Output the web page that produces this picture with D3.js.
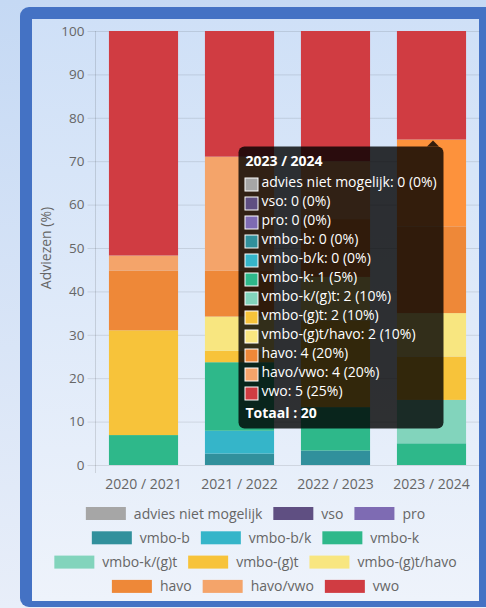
<!DOCTYPE html>
<html>
<head>
<meta charset="utf-8">
<script src="https://cdn.jsdelivr.net/npm/d3@7"></script>
<style>
  body { margin: 0; padding: 0; }
  svg { display: block; font-family: "Open Sans", sans-serif; }
</style>
</head>
<body>
<div id="graph"></div>
<script>
// School years (x categories)
const years = ["2020 / 2021", "2021 / 2022", "2022 / 2023", "2023 / 2024"];

// Advice types, stacked bottom-up
const adviceTypes = [
    "advies niet mogelijk", "vso", "pro",
    "vmbo-b", "vmbo-b/k", "vmbo-k",
    "vmbo-k/(g)t", "vmbo-(g)t", "vmbo-(g)t/havo",
    "havo", "havo/vwo", "vwo"
];

const adviceColors = [
    "#a6a6a6", "#5f4f82", "#7e6bb3",
    "#31909c", "#35b5c9", "#2eb88a",
    "#82d4bc", "#f7c33a", "#f8e680",
    "#ee8838", "#f4a46a", "#d03c42"
];

// Number of advices per type, one value per year
const counts = {
    "advies niet mogelijk": [0, 0, 0, 0],
    "vso": [0, 0, 0, 0],
    "pro": [0, 0, 0, 0],
    "vmbo-b": [0, 1, 1, 0],
    "vmbo-b/k": [0, 2, 0, 0],
    "vmbo-k": [2, 6, 3, 1],
    "vmbo-k/(g)t": [0, 0, 0, 2],
    "vmbo-(g)t": [7, 1, 6, 2],
    "vmbo-(g)t/havo": [0, 3, 3, 2],
    "havo": [4, 4, 4, 4],
    "havo/vwo": [1, 10, 4, 4],
    "vwo": [15, 11, 9, 5]
};

const yTicks = [0, 10, 20, 30, 40, 50, 60, 70, 80, 90, 100];

// Hover state shown in the picture
const tooltipYear = "2023 / 2024";
const hoveredType = "havo/vwo";
const hoverColor = "#fd923c";

const W = 486, H = 608;
const margin = { left: 95.5, right: 479.5, top: 31, bottom: 465 };

const svg = d3.select("#graph").append("svg")
    .attr("width", W)
    .attr("height", H);

// Backgrounds
const defs = svg.append("defs");
const bgGrad = defs.append("linearGradient").attr("id", "bg").attr("x1", 0).attr("y1", 0).attr("x2", 0).attr("y2", 1);
bgGrad.append("stop").attr("offset", "0%").attr("stop-color", "#c5d9f4");
bgGrad.append("stop").attr("offset", "100%").attr("stop-color", "#e8eef9");
const panelGrad = defs.append("linearGradient").attr("id", "panel").attr("x1", 0).attr("y1", 0).attr("x2", 0).attr("y2", 1);
panelGrad.append("stop").attr("offset", "0%").attr("stop-color", "#cfe0f7");
panelGrad.append("stop").attr("offset", "100%").attr("stop-color", "#eef3fb");

svg.append("rect").attr("width", W).attr("height", H).attr("fill", "url(#bg)");
svg.append("rect").attr("x", 20).attr("y", 7).attr("width", 480).attr("height", 600)
    .attr("rx", 9).attr("fill", "#4472c4");
svg.append("rect").attr("x", 32).attr("y", 19).attr("width", 447).attr("height", 582)
    .attr("fill", "url(#panel)");

// Percentages per year
const totals = years.map((y, i) => d3.sum(adviceTypes, t => counts[t][i]));
const table = years.map((y, i) => {
    const row = { year: y };
    adviceTypes.forEach(t => { row[t] = counts[t][i] / totals[i] * 100; });
    return row;
});

const stack = d3.stack().keys(adviceTypes)(table);

const xScale = d3.scaleBand().domain(years)
    .range([margin.left, margin.right])
    .paddingInner(0.28).paddingOuter(0.14);

const yScale = d3.scaleLinear().domain([0, 100])
    .range([margin.bottom, margin.top]);

// Grid
svg.append("g").selectAll("line").data(yTicks).join("line")
    .attr("x1", margin.left - 8).attr("x2", margin.right)
    .attr("y1", d => yScale(d) + 0.5).attr("y2", d => yScale(d) + 0.5)
    .attr("stroke", "rgba(0,0,0,0.1)");
svg.append("line")
    .attr("x1", margin.left).attr("x2", margin.left)
    .attr("y1", margin.top).attr("y2", margin.bottom + 8)
    .attr("stroke", "rgba(0,0,0,0.12)");

// Bars
svg.append("g").selectAll("g").data(stack).join("g")
    .each(function (layer, li) {
        d3.select(this).selectAll("rect").data(layer).join("rect")
            .attr("x", d => xScale(d.data.year))
            .attr("width", xScale.bandwidth())
            .attr("y", d => yScale(d[1]))
            .attr("height", d => yScale(d[0]) - yScale(d[1]))
            .attr("fill", d => (layer.key === hoveredType && d.data.year === tooltipYear) ? hoverColor : adviceColors[li]);
    });

// Axes
const leftAxis = d3.axisLeft(yScale).tickValues(yTicks).tickSize(0).tickPadding(11);
const gLeft = svg.append("g").attr("transform", `translate(${margin.left}, 0)`).call(leftAxis);
gLeft.select(".domain").remove();
gLeft.selectAll("text").attr("fill", "#666").attr("font-size", 13.5).attr("font-family", "Open Sans");

const bottomAxis = d3.axisBottom(xScale).tickSize(0).tickPadding(14);
const gBottom = svg.append("g").attr("transform", `translate(0, ${margin.bottom})`).call(bottomAxis);
gBottom.select(".domain").remove();
gBottom.selectAll("text").attr("fill", "#666").attr("font-size", 14).attr("font-family", "Open Sans");

svg.append("text")
    .attr("transform", `translate(51, 248) rotate(-90)`)
    .attr("text-anchor", "middle")
    .attr("fill", "#666").attr("font-size", 14)
    .text("Adviezen (%)");

// Legend
const legend = svg.append("g");
const boxW = 40, boxH = 13, gap = 8, pad = 11, maxRow = 420, rowH = 24.3, legendTop = 507;
const items = adviceTypes.map((t, i) => {
    const tmp = legend.append("text").attr("font-size", 14).text(t);
    const w = tmp.node().getComputedTextLength();
    tmp.remove();
    return { name: t, color: adviceColors[i], w: boxW + gap + w };
});
const rows = [];
items.forEach(it => {
    const row = rows[rows.length - 1];
    if (row && row.width + pad + it.w <= maxRow) {
        row.items.push(it); row.width += pad + it.w;
    } else {
        rows.push({ items: [it], width: it.w });
    }
});
rows.forEach((row, r) => {
    let x = 255.5 - row.width / 2;
    const y = legendTop + r * rowH;
    row.items.forEach(it => {
        legend.append("rect").attr("x", x).attr("y", y).attr("width", boxW).attr("height", boxH)
            .attr("fill", it.color);
        legend.append("text").attr("x", x + boxW + gap).attr("y", y + 11.5)
            .attr("font-size", 14).attr("fill", "#666").text(it.name);
        x += it.w + pad;
    });
});

// Tooltip
const ti = years.indexOf(tooltipYear);
const tip = svg.append("g");
const tx = 238.5, ty = 146.5, tw = 205, th = 282;
const caretX = 433;
tip.append("path")
    .attr("d", `M${caretX - 6},${ty} L${caretX},${ty - 6} L${caretX + 6},${ty} Z`)
    .attr("fill", "rgba(0,0,0,0.8)");
tip.append("rect").attr("x", tx).attr("y", ty).attr("width", tw).attr("height", th)
    .attr("rx", 6).attr("fill", "rgba(0,0,0,0.8)");
tip.append("text").attr("x", tx + 7).attr("y", ty + 19.5)
    .attr("font-size", 14).attr("font-weight", "bold").attr("fill", "#fff")
    .text(tooltipYear);
adviceTypes.forEach((t, i) => {
    const ly = ty + 40.5 + i * 19;
    tip.append("rect").attr("x", tx + 6.5).attr("y", ly - 9).attr("width", 13).attr("height", 13)
        .attr("fill", adviceColors[i]).attr("stroke", "#fff").attr("stroke-width", 1);
    const n = counts[t][ti];
    tip.append("text").attr("x", tx + 23).attr("y", ly)
        .attr("font-size", 14).attr("fill", "#fff")
        .text(`${t}: ${n} (${Math.round(n / totals[ti] * 100)}%)`);
});
tip.append("text").attr("x", tx + 7).attr("y", ty + 271)
    .attr("font-size", 14).attr("font-weight", "bold").attr("fill", "#fff")
    .text(`Totaal : ${totals[ti]}`);
</script>
</body>
</html>
